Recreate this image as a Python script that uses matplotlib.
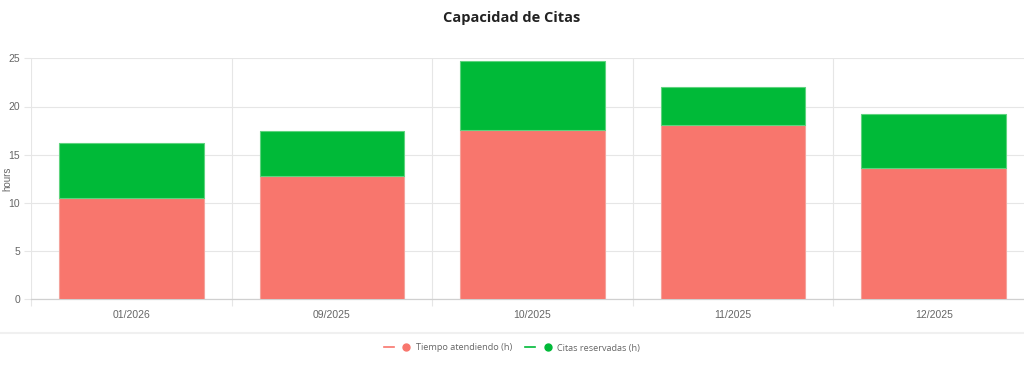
import matplotlib.pyplot as plt
import numpy as np
from matplotlib.lines import Line2D
from matplotlib.legend_handler import HandlerTuple

months = ['01/2026', '09/2025', '10/2025', '11/2025', '12/2025']
tiempo_atendiendo = [10.5, 12.75, 17.55, 18.08, 13.6]
citas_reservadas = [5.7, 4.74, 7.2, 3.9, 5.6]

red = '#F8766D'
green = '#00BA38'
grid_col = '#e6e6e6'
text_col = '#666666'

plt.rcParams['font.family'] = ['Liberation Sans', 'DejaVu Sans']

fig = plt.figure(figsize=(10.24, 3.72), dpi=100)
# plot area runs a bit past the right edge, like the original
ax = fig.add_axes([31 / 1024, (372 - 299.3) / 372, 1003 / 1024, 241 / 372])

x = np.arange(len(months))
ax.bar(x, tiempo_atendiendo, width=0.72, color=red, edgecolor='#f4a39c', linewidth=0.8, zorder=3)
ax.bar(x, citas_reservadas, width=0.72, bottom=tiempo_atendiendo, color=green,
       edgecolor='#5fd37f', linewidth=0.8, zorder=3)

ax.set_xlim(-0.5, len(months) - 0.5)
ax.set_ylim(0, 25)
ax.set_yticks(range(0, 26, 5))
ax.set_xticks(x)
ax.set_xticklabels(months)
ax.set_xticks(np.arange(-0.5, len(months)), minor=True)

ax.grid(True, axis='y', color=grid_col, linewidth=0.8, zorder=0)
ax.grid(True, axis='x', which='minor', color=grid_col, linewidth=0.8, zorder=0)
ax.tick_params(axis='x', which='major', length=0, pad=8, labelsize=7.5, labelcolor=text_col)
ax.tick_params(axis='x', which='minor', length=5, color=grid_col, width=0.8)
ax.tick_params(axis='y', length=5, color=grid_col, width=0.8, pad=3, labelsize=7.5, labelcolor=text_col)

for s in ['top', 'right', 'left']:
    ax.spines[s].set_visible(False)
ax.spines['bottom'].set_color('#d0d0d0')
ax.spines['bottom'].set_linewidth(0.9)

ax.set_ylabel('hours', fontsize=7, color=text_col)
ax.yaxis.set_label_coords(-19 / 1003, 0.5)

fig.text(0.5, 1 - 18 / 372, 'Capacidad de Citas', ha='center', va='center',
         fontsize=10.5, fontweight='bold', family='Open Sans', color='#222222')

# separator above the legend
fig.add_artist(Line2D([0, 1], [1 - 333 / 372] * 2, transform=fig.transFigure,
                      color='#f0f0f0', linewidth=1.5))

h1 = (Line2D([], [], color=red, lw=1.2), Line2D([], [], color=red, marker='o', ls='', ms=5))
h2 = (Line2D([], [], color=green, lw=1.2), Line2D([], [], color=green, marker='o', ls='', ms=5))
fig.legend([h1, h2], ['Tiempo atendiendo (h)', 'Citas reservadas (h)'],
           handler_map={tuple: HandlerTuple(ndivide=None, pad=0.8)},
           loc='center', bbox_to_anchor=(0.5, 1 - 348 / 372), ncol=2, frameon=False,
           prop={'family': 'Open Sans', 'size': 6.6}, labelcolor=text_col,
           handlelength=3.0, columnspacing=1.4, handletextpad=0.5)

fig.savefig('out.png', dpi=100)
